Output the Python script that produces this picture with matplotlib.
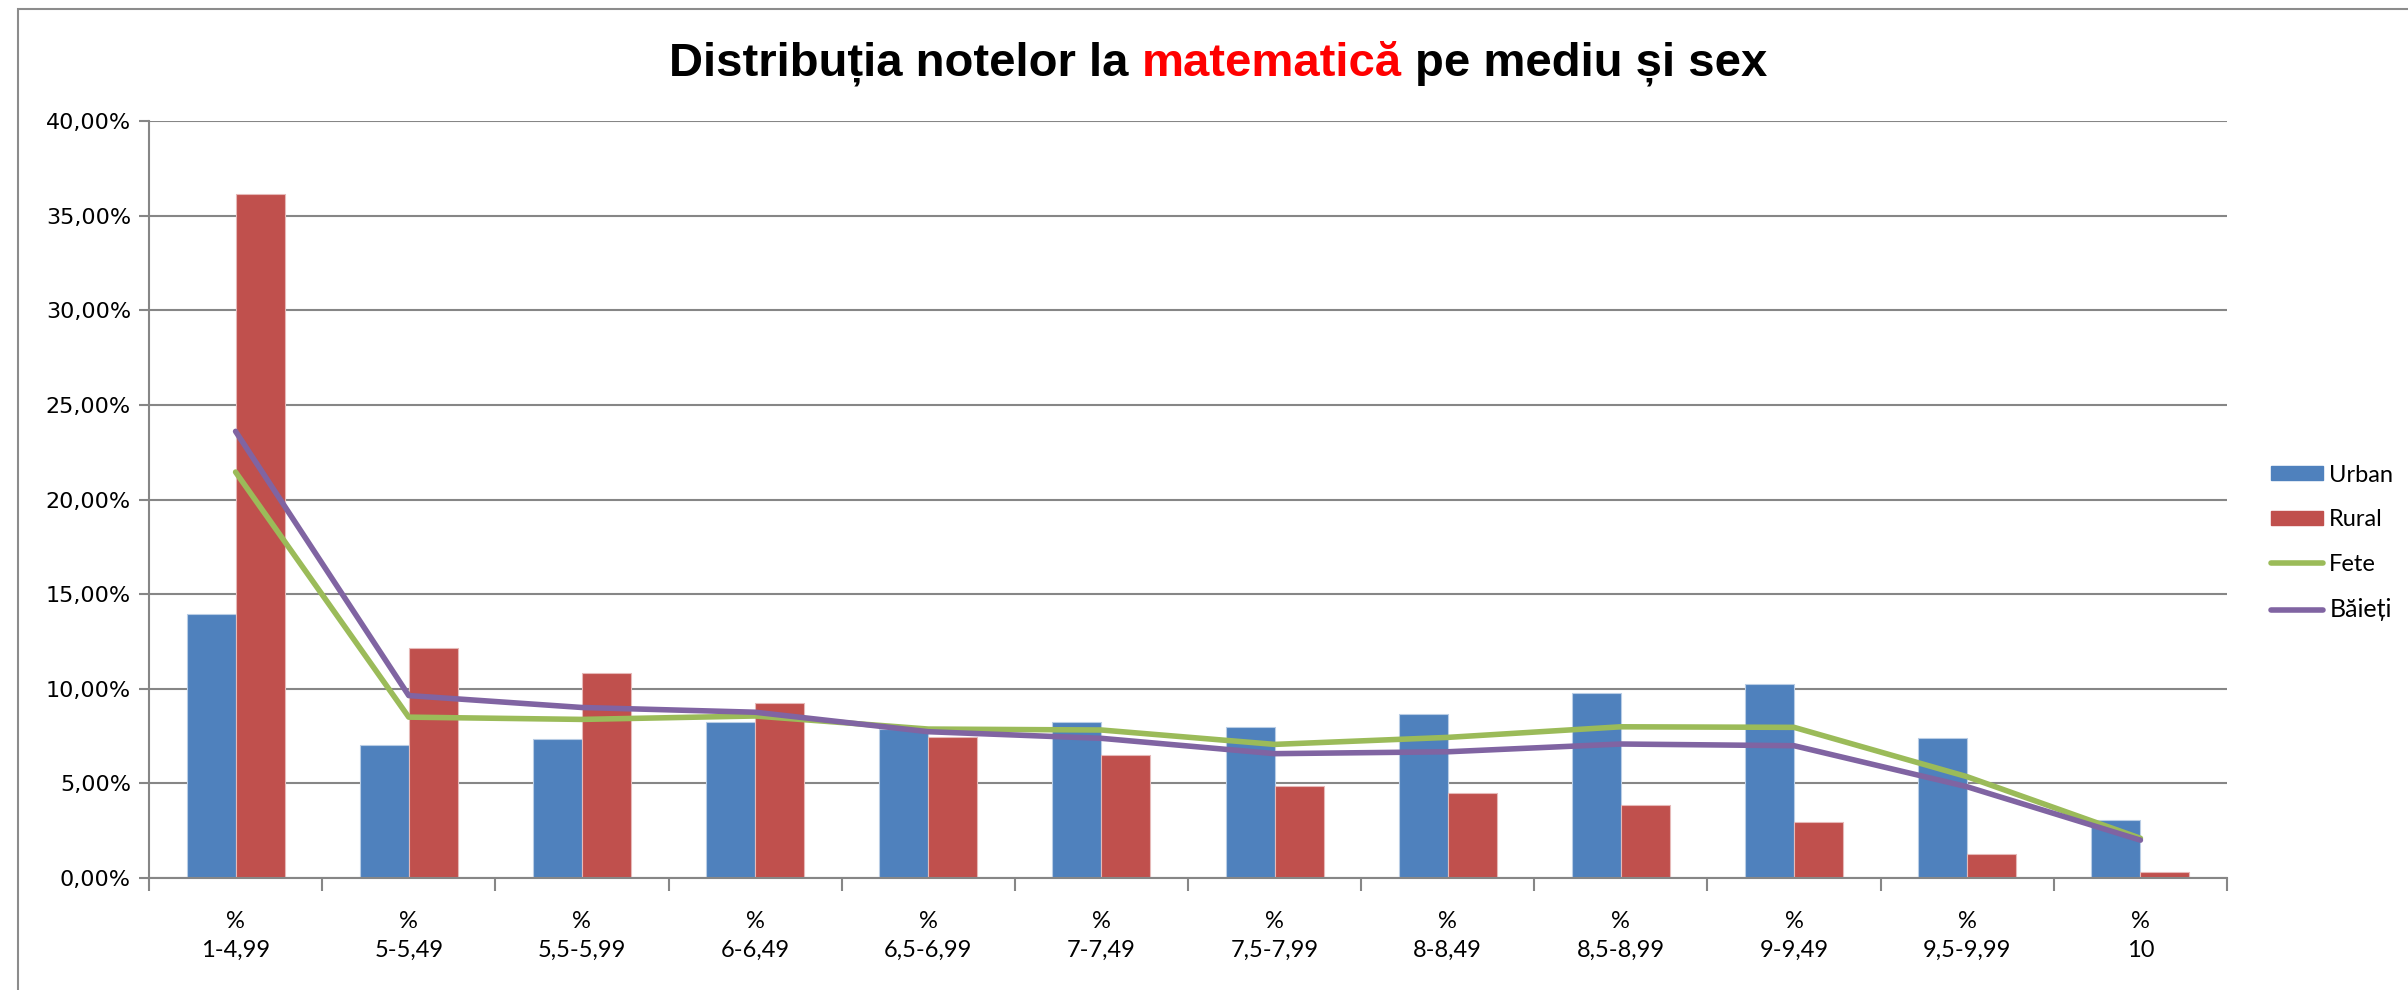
import matplotlib
matplotlib.use("Agg")
import matplotlib.pyplot as plt
import numpy as np
from matplotlib.patches import Patch, Rectangle
from matplotlib.lines import Line2D
from matplotlib.ticker import FuncFormatter

# grade intervals (x axis) and values in percent
categories = ["1-4,99", "5-5,49", "5,5-5,99", "6-6,49", "6,5-6,99", "7-7,49",
              "7,5-7,99", "8-8,49", "8,5-8,99", "9-9,49", "9,5-9,99", "10"]
urban = [13.95, 7.04, 7.37, 8.25, 7.87, 8.24, 7.99, 8.66, 9.77, 10.26, 7.40, 3.06]
rural = [36.12, 12.17, 10.83, 9.24, 7.47, 6.48, 4.86, 4.47, 3.85, 2.94, 1.25, 0.30]
fete = [21.45, 8.50, 8.38, 8.56, 7.87, 7.82, 7.06, 7.43, 7.99, 7.96, 5.35, 2.10]
baieti = [23.60, 9.64, 9.01, 8.76, 7.73, 7.38, 6.57, 6.67, 7.08, 6.99, 4.82, 2.00]
yticks = [0, 5, 10, 15, 20, 25, 30, 35, 40]

BLUE = "#4F81BD"
RED = "#C0504D"
GREEN = "#9BBB59"
PURPLE = "#8064A2"
GRAY = "#868686"
LABEL_FONT = ["Lato", "DejaVu Sans"]

W, H = 2408, 990
fig = plt.figure(figsize=(W / 100, H / 100), dpi=100)

# outer chart frame (only left and top edges visible)
fig.patches.append(Rectangle((18 / W, -0.1), 2.0, 1 - 9 / H + 0.1,
                             transform=fig.transFigure, fill=False,
                             edgecolor="#8c8c8c", lw=1.5))

left, right, top, bottom = 149, 2227, 121, 878
ax = fig.add_axes([left / W, 1 - bottom / H, (right - left) / W, (bottom - top) / H])

x = np.arange(len(categories))
bw = 49 / 173
ax.bar(x - bw / 2, urban, bw, color=BLUE, edgecolor="#b9cde5", lw=0.8, zorder=2)
ax.bar(x + bw / 2, rural, bw, color=RED, edgecolor="#e6b9b8", lw=0.8, zorder=2)
ax.plot(x, fete, color=GREEN, lw=4, solid_capstyle="round", solid_joinstyle="round", zorder=3)
ax.plot(x, baieti, color=PURPLE, lw=4, solid_capstyle="round", solid_joinstyle="round", zorder=4)

ax.set_xlim(-0.5, len(categories) - 0.5)
ax.set_ylim(0, 40)

# y axis
ax.set_yticks(yticks)
ax.yaxis.set_major_formatter(FuncFormatter(lambda v, p: f"{v:.2f}%".replace(".", ",")))
ax.yaxis.grid(True, color=GRAY, lw=1.5)
ax.set_axisbelow(True)
ax.tick_params(axis="y", length=7, width=1.5, color=GRAY, pad=6,
               labelsize=16, labelcolor="#000000")

# x axis: labels at centers, tick marks at category boundaries
ax.set_xticks(x)
ax.set_xticklabels(["%\n" + c for c in categories], family=LABEL_FONT,
                   fontsize=17, linespacing=1.45)
ax.tick_params(axis="x", which="major", length=0, pad=24)
ax.set_xticks(np.arange(-0.5, len(categories), 1), minor=True)
ax.tick_params(axis="x", which="minor", length=9, width=1.5, color=GRAY)

for side in ("top", "right"):
    ax.spines[side].set_visible(False)
for side in ("left", "bottom"):
    ax.spines[side].set_color(GRAY)
    ax.spines[side].set_linewidth(1.5)

# legend
handles = [Patch(facecolor=BLUE, edgecolor=BLUE),
           Patch(facecolor=RED, edgecolor=RED),
           Line2D([], [], color=GREEN, lw=4, solid_capstyle="round"),
           Line2D([], [], color=PURPLE, lw=4, solid_capstyle="round")]
leg = fig.legend(handles, ["Urban", "Rural", "Fete", "Băieți"],
                 loc="center left", bbox_to_anchor=(2262 / W, 1 - 543 / H),
                 frameon=False, prop={"family": LABEL_FONT, "size": 17},
                 handlelength=2.2, handleheight=0.55, handletextpad=0.25,
                 labelspacing=1.0, borderaxespad=0)
leg.get_texts()[3].set_fontsize(18)

# title with the red word, placed piece by piece
pieces = [("Distribuția notelor la", "black"), ("matematică", "red"),
          ("pe mediu și sex", "black")]
tprops = dict(family=["Liberation Sans", "DejaVu Sans"], fontsize=34, fontweight="bold")
renderer = fig.canvas.get_renderer()


def text_width(s):
    t = fig.text(0, 0, s, **tprops)
    wpx = t.get_window_extent(renderer).width
    t.remove()
    return wpx


space = text_width("x x") - text_width("xx")
widths = [text_width(s) for s, _ in pieces]
total = sum(widths) + space * (len(pieces) - 1)
xpos = 1218 - total / 2
for (s, col), wpx in zip(pieces, widths):
    fig.text(xpos / W, 1 - 76 / H, s, color=col, ha="left", va="baseline", **tprops)
    xpos += wpx + space

fig.savefig("out.png", dpi=100)
